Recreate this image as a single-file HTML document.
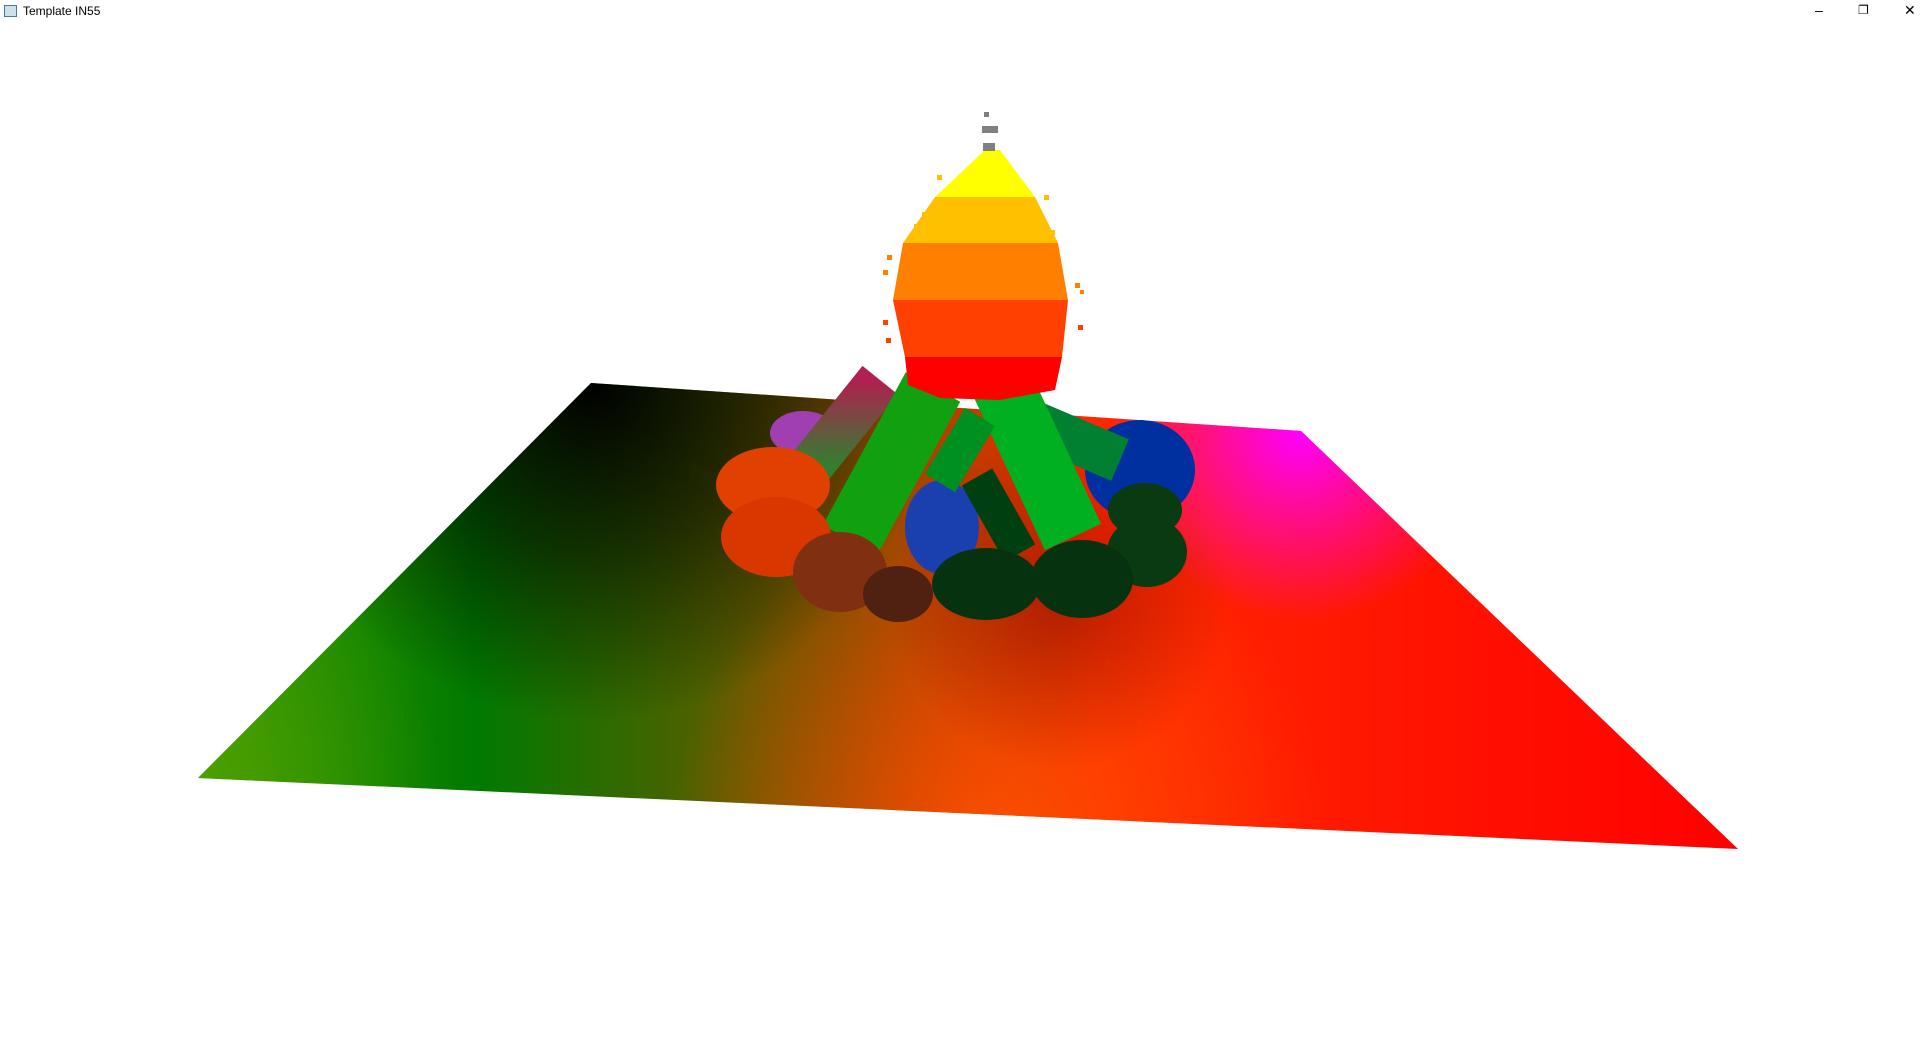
<!DOCTYPE html>
<html><head><meta charset="utf-8"><style>
html,body{margin:0;padding:0;width:1920px;height:1040px;overflow:hidden;background:#fff;font-family:"Liberation Sans",sans-serif}
#title{position:absolute;left:0;top:0;width:1920px;height:22px;background:#fff}
#title span{position:absolute;left:23px;top:4px;font-size:12px;color:#000}
#icon{position:absolute;left:4px;top:5px;width:11px;height:10px;border:1px solid #4a7a9a;background:#cfe0ea}
.ctl{position:absolute;top:2px;font-size:14px;color:#000}
svg{position:absolute;left:0;top:0}
</style></head><body>
<div id="title">
<div id="icon"></div>
<span>Template IN55</span>
<div class="ctl" style="left:1815px">–</div>
<div class="ctl" style="left:1858px;font-size:12px;top:3px">❐</div>
<div class="ctl" style="left:1904px">✕</div>
</div>
<svg width="1920" height="1040" viewBox="0 0 1920 1040">
<defs>
<linearGradient id="base" x1="198" y1="600" x2="1738" y2="600" gradientUnits="userSpaceOnUse">
<stop offset="0" stop-color="#3a9a00"/><stop offset="0.18" stop-color="#007a00"/><stop offset="0.42" stop-color="#805000"/><stop offset="0.58" stop-color="#ff2800"/><stop offset="1" stop-color="#ff0000"/></linearGradient>
<radialGradient id="blk" cx="591" cy="383" r="340" gradientUnits="userSpaceOnUse"><stop offset="0" stop-color="#000" stop-opacity="1"/><stop offset="0.5" stop-color="#000" stop-opacity="0.55"/><stop offset="1" stop-color="#000" stop-opacity="0"/></radialGradient>
<radialGradient id="mag" cx="1301" cy="431" r="190" gradientUnits="userSpaceOnUse"><stop offset="0" stop-color="#ff00ff" stop-opacity="1"/><stop offset="1" stop-color="#ff00ff" stop-opacity="0"/></radialGradient>
<radialGradient id="org" cx="1000" cy="830" r="330" gradientUnits="userSpaceOnUse"><stop offset="0" stop-color="#ff5000" stop-opacity="0.9"/><stop offset="1" stop-color="#ff5000" stop-opacity="0"/></radialGradient>
<radialGradient id="ylw" cx="198" cy="778" r="240" gradientUnits="userSpaceOnUse"><stop offset="0" stop-color="#50a000" stop-opacity="0.8"/><stop offset="1" stop-color="#50a000" stop-opacity="0"/></radialGradient>
<radialGradient id="shd" cx="1060" cy="600" r="170" gradientUnits="userSpaceOnUse"><stop offset="0" stop-color="#600000" stop-opacity="0.45"/><stop offset="1" stop-color="#600000" stop-opacity="0"/></radialGradient>
<linearGradient id="lg2" x1="0" y1="0" x2="0" y2="1"><stop offset="0" stop-color="#b02050"/><stop offset="1" stop-color="#308030"/></linearGradient>
<clipPath id="plane"><polygon points="591,383 1301,431 1738,849 198,778"/></clipPath>
</defs>
<g>
<polygon points="591,383 1301,431 1738,849 198,778" fill="url(#base)"/>
<g clip-path="url(#plane)">
<rect x="0" y="0" width="1920" height="1040" fill="url(#org)"/>
<rect x="0" y="0" width="1920" height="1040" fill="url(#ylw)"/>
<rect x="0" y="0" width="1920" height="1040" fill="url(#shd)"/>
<rect x="0" y="0" width="1920" height="1040" fill="url(#blk)"/>
<rect x="0" y="0" width="1920" height="1040" fill="url(#mag)"/>
</g></g>
<g>
<ellipse cx="1140" cy="470" rx="55" ry="50" fill="#0030a0"/>
<ellipse cx="803" cy="433" rx="33" ry="22" fill="#a040b0"/>
<ellipse cx="942" cy="527" rx="37" ry="47" fill="#1a40b0"/>
</g>
<g stroke-linecap="butt">
<line x1="880" y1="380" x2="810" y2="467" stroke="url(#lg2)" stroke-width="45"/>
<line x1="1033" y1="423" x2="1120" y2="460" stroke="#008030" stroke-width="45"/>
<line x1="977" y1="477" x2="1020" y2="553" stroke="#004010" stroke-width="35"/>
<line x1="1000" y1="380" x2="1073" y2="537" stroke="#00b020" stroke-width="62"/>
<line x1="980" y1="417" x2="940" y2="483" stroke="#009020" stroke-width="35"/>
<line x1="933" y1="387" x2="850" y2="540" stroke="#10a010" stroke-width="62"/>
</g>
<g>
<ellipse cx="1145" cy="510" rx="37" ry="27" fill="#0a3a12"/>
<ellipse cx="1147" cy="552" rx="40" ry="35" fill="#0a3a12"/>
<ellipse cx="773" cy="485" rx="57" ry="38" fill="#e04000"/>
<ellipse cx="776" cy="537" rx="55" ry="40" fill="#d83800"/>
<ellipse cx="840" cy="572" rx="47" ry="40" fill="#803010"/>
<ellipse cx="898" cy="594" rx="35" ry="28" fill="#502010"/>
<ellipse cx="986" cy="584" rx="54" ry="36" fill="#063210"/>
<ellipse cx="1082" cy="579" rx="51" ry="39" fill="#063210"/>
</g>
<g>
<path d="M905,357 L1062,357 L1055,390 L1000,400 L940,398 L908,385 Z" fill="#ff0000"/>
<path d="M893,300 L1068,300 L1062,357 L905,357 Z" fill="#ff4000"/>
<path d="M903,243 L1058,243 L1068,300 L893,300 Z" fill="#ff8000"/>
<path d="M935,197 L1035,197 L1058,243 L903,243 Z" fill="#ffc000"/>
<path d="M985,150 L1000,150 L1035,197 L935,197 Z" fill="#ffff00"/>
<g fill="#ffc000"><rect x="937" y="175" width="5" height="5"/><rect x="1044" y="195" width="5" height="5"/><rect x="914" y="224" width="5" height="5"/><rect x="922" y="212" width="5" height="5"/><rect x="1050" y="230" width="5" height="5"/></g>
<g fill="#ff8000"><rect x="883" y="270" width="5" height="5"/><rect x="1075" y="283" width="5" height="5"/><rect x="1080" y="290" width="4" height="4"/><rect x="887" y="255" width="5" height="5"/></g>
<g fill="#ff4000"><rect x="883" y="320" width="5" height="5"/><rect x="1078" y="325" width="5" height="5"/><rect x="886" y="338" width="5" height="5"/></g>
<rect x="983" y="143" width="12" height="8" fill="#808080"/>
<rect x="982" y="126" width="16" height="7" fill="#808080"/>
<rect x="984" y="112" width="5" height="5" fill="#808080"/>
</g>
</svg>
</body></html>
